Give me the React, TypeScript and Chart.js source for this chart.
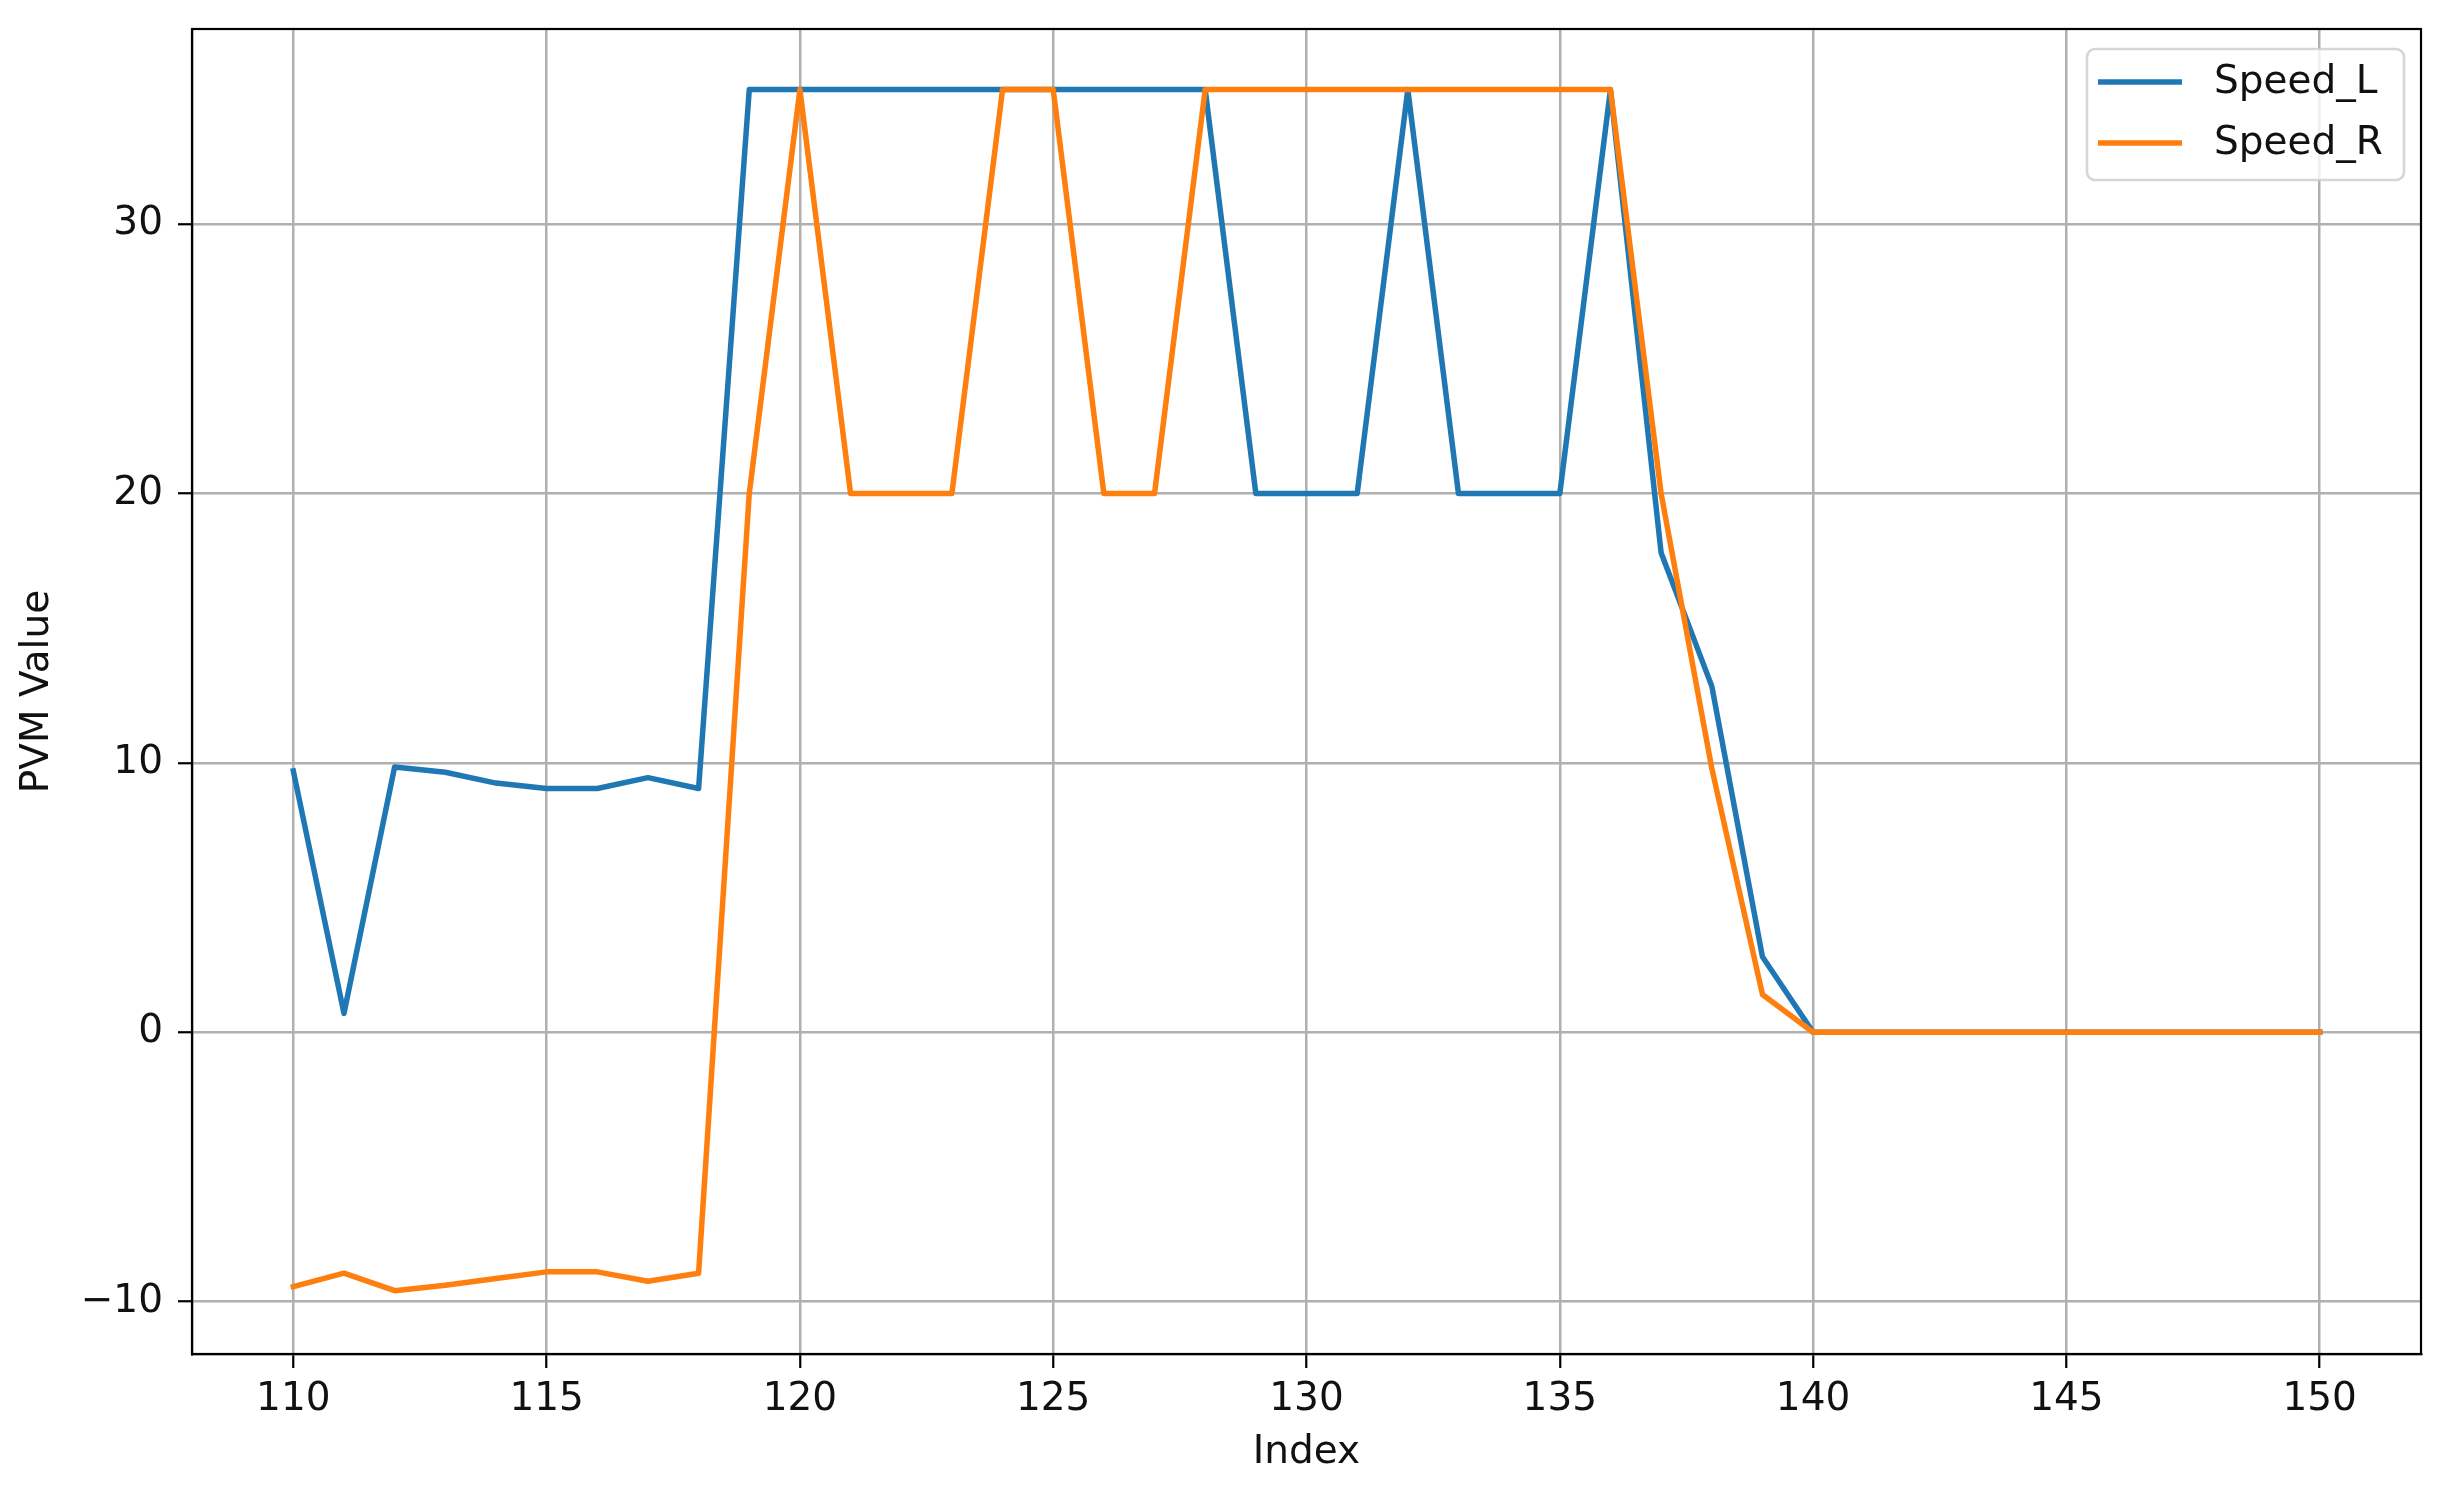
import React, { useEffect, useRef } from 'react';
import { Chart, registerables } from 'chart.js';

Chart.register(...registerables);

// ---------- data ----------
const indexValues = [
  110, 111, 112, 113, 114, 115, 116, 117, 118, 119,
  120, 121, 122, 123, 124, 125, 126, 127, 128, 129,
  130, 131, 132, 133, 134, 135, 136, 137, 138, 139,
  140, 141, 142, 143, 144, 145, 146, 147, 148, 149, 150,
];

const speedL = [
  9.7, 0.7, 9.85, 9.65, 9.25, 9.05, 9.05, 9.45, 9.05, 35,
  35, 35, 35, 35, 35, 35, 35, 35, 35, 20,
  20, 20, 35, 20, 20, 20, 35, 17.8, 12.85, 2.8,
  0, 0, 0, 0, 0, 0, 0, 0, 0, 0, 0,
];

const speedR = [
  -9.45, -8.95, -9.6, -9.4, -9.15, -8.9, -8.9, -9.25, -8.95, 20,
  35, 20, 20, 20, 35, 35, 20, 20, 35, 35,
  35, 35, 35, 35, 35, 35, 35, 20, 9.8, 1.4,
  0, 0, 0, 0, 0, 0, 0, 0, 0, 0, 0,
];

const seriesNames = ['Speed_L', 'Speed_R'];
const seriesColors = ['#1f77b4', '#ff7f0e'];
const xTickValues = [110, 115, 120, 125, 130, 135, 140, 145, 150];
const yTickValues = [-10, 0, 10, 20, 30];
const xAxisTitle = 'Index';
const yAxisTitle = 'PVM Value';

const X_MIN = 108;
const X_MAX = 152;
const Y_MIN = -11.95;
const Y_MAX = 37.25;

// ---------- style ----------
const W = 2446;
const H = 1488;
const FAMILY = "'DejaVu Sans', 'Liberation Sans', sans-serif";
const FS = 39;
const TEXT_COLOR = '#111';

const fmtTick = (v: number) => (v < 0 ? '\u2212' + String(Math.abs(v)) : String(v));

const frameAndLegend = {
  id: 'frameAndLegend',
  afterDatasetsDraw(chart: any) {
    const { ctx, chartArea: a } = chart;
    ctx.save();
    ctx.strokeStyle = '#000';
    ctx.lineWidth = 2.2;
    ctx.strokeRect(a.left, a.top, a.right - a.left, a.bottom - a.top);
    ctx.restore();
  },
  afterDraw(chart: any) {
    const { ctx, chartArea: a } = chart;
    const boxW = 317;
    const boxH = 131;
    const right = a.right - 17;
    const top = a.top + 20;
    const left = right - boxW;
    const r = 8;
    ctx.save();
    ctx.beginPath();
    ctx.moveTo(left + r, top);
    ctx.lineTo(left + boxW - r, top);
    ctx.arcTo(left + boxW, top, left + boxW, top + r, r);
    ctx.lineTo(left + boxW, top + boxH - r);
    ctx.arcTo(left + boxW, top + boxH, left + boxW - r, top + boxH, r);
    ctx.lineTo(left + r, top + boxH);
    ctx.arcTo(left, top + boxH, left, top + boxH - r, r);
    ctx.lineTo(left, top + r);
    ctx.arcTo(left, top, left + r, top, r);
    ctx.closePath();
    ctx.fillStyle = 'rgba(255,255,255,0.8)';
    ctx.fill();
    ctx.strokeStyle = 'rgba(204,204,204,0.8)';
    ctx.lineWidth = 2.6;
    ctx.stroke();

    const datasets = chart.data.datasets;
    datasets.forEach((ds: any, i: number) => {
      const y = top + 33 + i * 61;
      ctx.beginPath();
      ctx.moveTo(left + 11, y);
      ctx.lineTo(left + 95, y);
      ctx.strokeStyle = ds.borderColor;
      ctx.lineWidth = 5.5;
      ctx.lineCap = 'butt';
      ctx.stroke();
      ctx.fillStyle = TEXT_COLOR;
      ctx.font = `${FS}px ${FAMILY}`;
      ctx.textAlign = 'left';
      ctx.textBaseline = 'middle';
      ctx.fillText(ds.label, left + 127, y + 1);
    });
    ctx.restore();
  },
};

export default function App() {
  const canvasRef = useRef<HTMLCanvasElement | null>(null);

  useEffect(() => {
    const canvas = canvasRef.current;
    if (!canvas) return;

    const seriesValues = [speedL, speedR];
    const datasets = seriesNames.map((name, si) => ({
      label: name,
      data: indexValues.map((x, i) => ({ x, y: seriesValues[si][i] })),
      borderColor: seriesColors[si],
      backgroundColor: seriesColors[si],
      borderWidth: 5.5,
      pointRadius: 0,
      pointHoverRadius: 0,
      tension: 0,
      fill: false,
      borderJoinStyle: 'round' as const,
      borderCapStyle: 'square' as const,
      order: seriesNames.length - si,
    }));

    const chart = new Chart(canvas, {
      type: 'line',
      data: { datasets },
      plugins: [frameAndLegend],
      options: {
        animation: false,
        responsive: false,
        maintainAspectRatio: false,
        devicePixelRatio: 1,
        layout: { padding: { top: 29, right: 25, left: 0, bottom: 0 } },
        plugins: {
          legend: { display: false },
          tooltip: { enabled: false },
        },
        scales: {
          x: {
            type: 'linear',
            min: X_MIN,
            max: X_MAX,
            afterBuildTicks: (s: any) => {
              s.ticks = xTickValues.map((v) => ({ value: v }));
            },
            afterFit: (s: any) => {
              s.height = 134;
              s.paddingLeft = 0;
              s.paddingRight = 0;
              s.paddingTop = 0;
              s.paddingBottom = 0;
            },
            ticks: {
              autoSkip: false,
              maxRotation: 0,
              padding: 8,
              color: TEXT_COLOR,
              font: { family: FAMILY, size: FS },
              callback: (v: any) => fmtTick(Number(v)),
            },
            grid: {
              color: '#b0b0b0',
              lineWidth: 2.5,
              drawTicks: true,
              tickLength: 14,
              tickColor: '#000',
              tickWidth: 2.2,
            },
            border: { display: true, color: '#000', width: 2.2 },
            title: {
              display: true,
              text: xAxisTitle,
              color: TEXT_COLOR,
              font: { family: FAMILY, size: FS },
              padding: { top: 0, bottom: 12 },
            },
          },
          y: {
            type: 'linear',
            min: Y_MIN,
            max: Y_MAX,
            afterBuildTicks: (s: any) => {
              s.ticks = yTickValues.map((v) => ({ value: v }));
            },
            afterFit: (s: any) => {
              s.width = 192;
              s.paddingLeft = 0;
              s.paddingRight = 0;
              s.paddingTop = 0;
              s.paddingBottom = 0;
            },
            ticks: {
              autoSkip: false,
              padding: 15,
              color: TEXT_COLOR,
              font: { family: FAMILY, size: FS },
              callback: (v: any) => fmtTick(Number(v)),
            },
            grid: {
              color: '#b0b0b0',
              lineWidth: 2.5,
              drawTicks: true,
              tickLength: 14,
              tickColor: '#000',
              tickWidth: 2.2,
            },
            border: { display: true, color: '#000', width: 2.2 },
            title: {
              display: true,
              text: yAxisTitle,
              color: TEXT_COLOR,
              font: { family: FAMILY, size: FS },
              padding: { top: 14, bottom: 14 },
            },
          },
        },
      },
    });

    return () => {
      chart.destroy();
    };
  }, []);

  return (
    <div style={{ position: 'absolute', left: 0, top: 0, width: W, height: H, background: '#fff' }}>
      <canvas ref={canvasRef} width={W} height={H} style={{ display: 'block', width: W, height: H }} />
    </div>
  );
}
